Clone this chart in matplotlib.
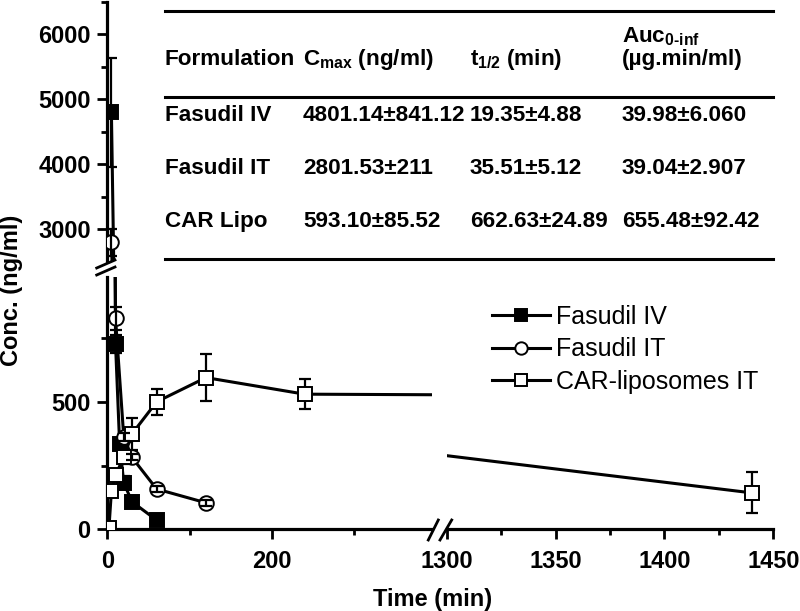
import matplotlib
matplotlib.use('Agg')
import matplotlib.pyplot as plt
from matplotlib.lines import Line2D
from matplotlib.ticker import MultipleLocator

plt.rcParams['font.family'] = ['Liberation Sans', 'DejaVu Sans']
plt.rcParams['mathtext.fontset'] = 'custom'
plt.rcParams['mathtext.rm'] = 'Liberation Sans:bold'
plt.rcParams['mathtext.it'] = 'Liberation Sans:bold'
plt.rcParams['mathtext.bf'] = 'Liberation Sans:bold'

# concentration-time data
iv_t = [5, 10, 15, 20, 30, 60]
iv_c = [4800, 727, 335, 183, 108, 36]
iv_sd = [841, 35, 20, 25, 15, 8]

it_t = [5, 10, 20, 30, 60, 120]
it_c = [2800, 827, 363, 282, 158, 104]
it_sd = [211, 45, 15, 12, 10, 12]

car_t = [2, 5, 10, 20, 30, 60, 120, 240, 1080, 1440]
car_c = [5, 150, 213, 282, 374, 500, 595, 530, 518, 143]
car_sd = [3, 15, 20, 25, 64, 50, 93, 58, 0, 80]

# PK parameter table
formulations = ['Fasudil IV', 'Fasudil IT', 'CAR Lipo']
cmax = ['4801.14±841.12', '2801.53±211', '593.10±85.52']
t_half = ['19.35±4.88', '35.51±5.12', '662.63±24.89']
auc = ['39.98±6.060', '39.04±2.907', '655.48±92.42']

W, H = 800, 611
fig = plt.figure(figsize=(W / 100, H / 100), dpi=100)


def fx(px):
    return px / W


def fy(py):
    return 1 - py / H


ax_top = fig.add_axes([fx(107.3), fy(260.5), fx(432) - fx(107.3), fy(1.8) - fy(260.5)])
ax_bl = fig.add_axes([fx(107.3), fy(529.3), fx(432) - fx(107.3), fy(276.9) - fy(529.3)])
ax_br = fig.add_axes([fx(446.7), fy(529.3), fx(773.3) - fx(446.7), fy(276.9) - fy(529.3)])

lw = 2.2
styles = dict(color='k', lw=lw)


def draw(ax, t, c, sd, marker, mfc, ms, bars_on_top, label=None):
    ax.plot(t, c, marker=marker, mfc=mfc, mec='k', ms=ms, mew=1.4, zorder=3, label=label, **styles)
    ax.errorbar(t, c, yerr=sd, fmt='none', ecolor='k', elinewidth=1.6, capsize=4.5, capthick=1.6,
                zorder=4 if bars_on_top else 2)


for ax in (ax_top, ax_bl):
    draw(ax, iv_t, iv_c, iv_sd, 's', 'k', 9.5, False, 'Fasudil IV')
    draw(ax, it_t, it_c, it_sd, 'o', 'white', 10.5, True, 'Fasudil IT')
for ax in (ax_bl, ax_br):
    draw(ax, car_t, car_c, car_sd, 's', 'white', 9.5, False, 'CAR-liposomes IT')

ax_top.set_xlim(0, 395)
ax_bl.set_xlim(0, 395)
ax_br.set_xlim(1300, 1450)
ax_top.set_ylim(2520, 6500)
ax_bl.set_ylim(0, 990)
ax_br.set_ylim(0, 990)

for ax in (ax_top, ax_bl, ax_br):
    for s in ax.spines.values():
        s.set_linewidth(2.3)
    ax.spines['top'].set_visible(False)
    ax.spines['right'].set_visible(False)
    ax.tick_params(which='major', direction='out', length=7, width=2, labelsize=17, pad=5)
    ax.tick_params(which='minor', direction='out', length=4, width=2)

ax_top.spines['bottom'].set_visible(False)
ax_top.tick_params(axis='x', which='both', bottom=False, labelbottom=False)
ax_top.yaxis.set_major_locator(MultipleLocator(1000))
ax_top.yaxis.set_minor_locator(MultipleLocator(500))
ax_top.patch.set_alpha(0)

ax_bl.yaxis.set_major_locator(MultipleLocator(500))
ax_bl.yaxis.set_minor_locator(MultipleLocator(250))
ax_bl.xaxis.set_major_locator(MultipleLocator(200))
ax_bl.xaxis.set_minor_locator(MultipleLocator(100))
ax_bl.tick_params(axis='x', pad=8)

ax_br.spines['left'].set_visible(False)
ax_br.tick_params(axis='y', which='both', left=False, labelleft=False)
ax_br.xaxis.set_major_locator(MultipleLocator(50))
ax_br.xaxis.set_minor_locator(MultipleLocator(25))
ax_br.tick_params(axis='x', pad=8)
ax_br.patch.set_alpha(0)

for ax in (ax_top, ax_bl, ax_br):
    for lab in ax.get_xticklabels() + ax.get_yticklabels():
        lab.set_fontweight('bold')

# axis break marks
for (x0, y0, x1, y1) in [(96.7, 268, 115, 260), (96.7, 275, 115, 267),
                         (428.3, 540, 438.3, 520), (440, 540, 451.7, 520)]:
    fig.add_artist(Line2D([fx(x0), fx(x1)], [fy(y0), fy(y1)], transform=fig.transFigure,
                          color='k', lw=2))

fig.text(fx(12), fy(290), 'Conc. (ng/ml)', rotation=90, ha='center', va='center',
         fontsize=17, fontweight='bold')
fig.text(fx(433), fy(588), 'Time (min)', ha='center', va='top', fontsize=17, fontweight='bold')

handles, labels = ax_bl.get_legend_handles_labels()
fig.legend(handles, labels, loc='upper left', bbox_to_anchor=(fx(492), fy(305)),
           frameon=False, fontsize=18, handlelength=2.3, handletextpad=0.25,
           labelspacing=0.33, borderpad=0, borderaxespad=0, markerscale=0.85)

# parameter table
tfs = 16.2
for py in (11, 97, 259):
    fig.add_artist(Line2D([fx(165), fx(773)], [fy(py), fy(py)], transform=fig.transFigure,
                          color='k', lw=2.2))
col_x = [165, 303, 470, 622]
fig.text(fx(col_x[0]), fy(65), 'Formulation', fontsize=tfs, fontweight='bold', va='baseline')
fig.text(fx(col_x[1]), fy(65), r'C$_{\mathrm{max}}$ (ng/ml)', fontsize=tfs, fontweight='bold', va='baseline')
fig.text(fx(col_x[2]), fy(65), r't$_{\mathrm{1/2}}$ (min)', fontsize=tfs, fontweight='bold', va='baseline')
fig.text(fx(col_x[3]), fy(42), r'Auc$_{\text{0-inf}}$', fontsize=tfs, fontweight='bold', va='baseline')
fig.text(fx(col_x[3]), fy(65), '(µg.min/ml)', fontsize=tfs, fontweight='bold', va='baseline')
for i, row_y in enumerate([121, 174, 227]):
    for cx, val in zip(col_x, [formulations[i], cmax[i], t_half[i], auc[i]]):
        fig.text(fx(cx), fy(row_y), val, fontsize=tfs, fontweight='bold', va='baseline')

fig.savefig('out.png', dpi=100)
